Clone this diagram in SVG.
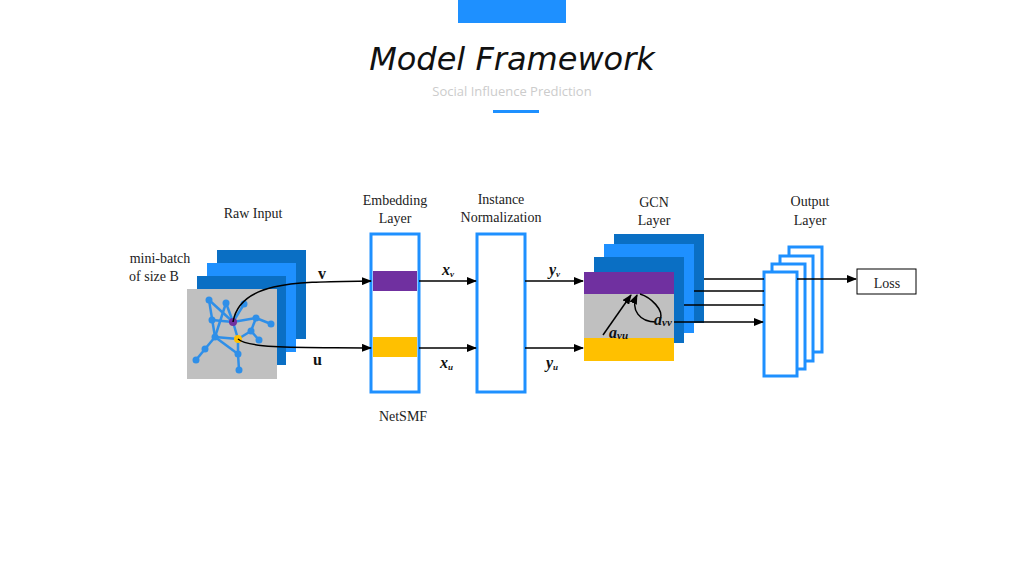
<svg xmlns="http://www.w3.org/2000/svg" width="1024" height="576" viewBox="0 0 1024 576">
<style>
.t{font-family:"Liberation Serif",serif;font-size:14px;fill:#222;text-anchor:middle}
.m{font-family:"Liberation Serif",serif;font-weight:bold;font-style:italic;fill:#111}
.ln{stroke:#000;stroke-width:1.5;fill:none}
.box{fill:#fff;stroke:#1e90ff;stroke-width:3}
.e{stroke:#2f8fe8;stroke-width:2.5}
.n{fill:#2f8fe8}
</style>
<defs><marker id="ah" markerWidth="10" markerHeight="8" refX="9" refY="4" orient="auto" markerUnits="userSpaceOnUse"><path d="M0,0L10,4L0,8z" fill="#000"/></marker></defs>
<rect x="458" y="0" width="108" height="23" fill="#1e90ff"/>
<text x="512" y="70" font-family="'Comic Sans MS','DejaVu Sans',cursive" font-style="italic" font-size="32" text-anchor="middle" fill="#111">Model Framework</text>
<text x="512" y="96" font-family="'Open Sans',sans-serif" font-size="13" text-anchor="middle" fill="#ccc">Social Influence Prediction</text>
<rect x="493" y="110" width="46" height="3" fill="#1e90ff"/>
<g id="raw-input">
<text class="t" x="253" y="218">Raw Input</text>
<text class="t" x="160" y="263">mini-batch</text>
<text class="t" x="154" y="281">of size B</text>
<rect x="217" y="250" width="89" height="89" fill="#0a6fc4"/>
<rect x="207" y="263" width="89" height="89" fill="#1e90ff"/>
<rect x="197" y="276" width="89" height="89" fill="#0a6fc4"/>
<rect x="187" y="289" width="90" height="90" fill="#c0c0c0"/>
<g class="e"><line x1="209" y1="300" x2="233" y2="322"/><line x1="226" y1="303" x2="233" y2="322"/><line x1="244" y1="304" x2="233" y2="322"/><line x1="212" y1="320" x2="233" y2="322"/><line x1="256" y1="318" x2="233" y2="322"/><line x1="271" y1="324" x2="256" y2="318"/><line x1="226" y1="303" x2="215" y2="337"/><line x1="209" y1="300" x2="215" y2="337"/><line x1="215" y1="337" x2="238" y2="339"/><line x1="233" y1="322" x2="238" y2="339"/><line x1="251" y1="331" x2="238" y2="339"/><line x1="251" y1="331" x2="259" y2="340"/><line x1="251" y1="331" x2="256" y2="318"/><line x1="215" y1="337" x2="205" y2="349"/><line x1="205" y1="349" x2="196" y2="360"/><line x1="238" y1="339" x2="238" y2="354"/><line x1="238" y1="354" x2="239" y2="370"/><line x1="215" y1="337" x2="238" y2="354"/></g>
<g class="n"><circle cx="209" cy="300" r="3.5"/><circle cx="226" cy="303" r="3.5"/><circle cx="244" cy="304" r="3.5"/><circle cx="212" cy="320" r="3.5"/><circle cx="256" cy="318" r="3.5"/><circle cx="271" cy="324" r="3.5"/><circle cx="251" cy="331" r="3.5"/><circle cx="215" cy="337" r="3.5"/><circle cx="259" cy="340" r="3.5"/><circle cx="205" cy="349" r="3.5"/><circle cx="238" cy="354" r="3.5"/><circle cx="196" cy="360" r="3.5"/><circle cx="239" cy="370" r="3.5"/></g>
<circle cx="233" cy="322" r="4" fill="#7030a0"/>
<circle cx="238" cy="339" r="4" fill="#ffc000"/>
</g>
<g id="embedding">
<text class="t" x="395" y="205">Embedding</text>
<text class="t" x="395" y="223">Layer</text>
<rect class="box" x="371" y="234" width="48" height="158"/>
<rect x="373" y="271" width="44" height="20" fill="#7030a0"/>
<rect x="373" y="337" width="44" height="20" fill="#ffc000"/>
<text class="t" x="403" y="421">NetSMF</text>
</g>
<g id="instance-norm">
<text class="t" x="501" y="204">Instance</text>
<text class="t" x="501" y="222">Normalization</text>
<rect class="box" x="477" y="234" width="48" height="158"/>
</g>
<g id="gcn">
<text class="t" x="654" y="207">GCN</text>
<text class="t" x="654" y="225">Layer</text>
<rect x="614" y="234" width="90" height="89" fill="#0a6fc4"/>
<rect x="604" y="244" width="90" height="89" fill="#1e90ff"/>
<rect x="594" y="257" width="90" height="86" fill="#0a6fc4"/>
<rect x="584" y="272" width="90" height="89" fill="#c0c0c0"/>
<rect x="584" y="272" width="90" height="22" fill="#7030a0"/>
<rect x="584" y="338" width="90" height="23" fill="#ffc000"/>
</g>
<g id="output">
<text class="t" x="810" y="206">Output</text>
<text class="t" x="810" y="225">Layer</text>
<rect class="box" x="789" y="247" width="33" height="105"/>
<rect class="box" x="780" y="256" width="33" height="105"/>
<rect class="box" x="772" y="264" width="33" height="105"/>
<rect class="box" x="764" y="272" width="33" height="104"/>
</g>
<g id="loss">
<rect x="857" y="269" width="59" height="25" fill="#fff" stroke="#000" stroke-width="1"/>
<text class="t" x="887" y="288" font-size="18">Loss</text>
</g>
<g id="connectors">
<path class="ln" d="M233,322 C240,280 300,282 371,281" marker-end="url(#ah)"/>
<path class="ln" d="M238,339 C250,350 320,347 371,348" marker-end="url(#ah)"/>
<line class="ln" x1="419" y1="281" x2="476" y2="281" marker-end="url(#ah)"/>
<line class="ln" x1="419" y1="348" x2="476" y2="348" marker-end="url(#ah)"/>
<line class="ln" x1="525" y1="281" x2="583" y2="281" marker-end="url(#ah)"/>
<line class="ln" x1="525" y1="348" x2="583" y2="348" marker-end="url(#ah)"/>
<path class="ln" stroke-width="1" d="M603,335 L631,295" marker-end="url(#ah)"/>
<path class="ln" stroke-width="1" d="M656,322 C640,322 630,310 637,295" marker-end="url(#ah)"/>
<path class="ln" stroke-width="1" d="M660,320 C665,310 650,297 640,294"/>
<line class="ln" x1="704" y1="279" x2="764" y2="279"/>
<line class="ln" x1="694" y1="291" x2="764" y2="291"/>
<line class="ln" x1="684" y1="305" x2="764" y2="305"/>
<line class="ln" x1="674" y1="322" x2="763" y2="322" marker-end="url(#ah)"/>
<line class="ln" x1="797" y1="279" x2="856" y2="279" marker-end="url(#ah)"/>
</g>
<g class="m">
<text x="318" y="279" font-size="16" font-style="normal">v</text>
<text x="313" y="365" font-size="16" font-style="normal">u</text>
<text x="442" y="275" font-size="16">x<tspan font-size="9" dy="2">v</tspan></text>
<text x="440" y="368" font-size="16">x<tspan font-size="9" dy="2">u</tspan></text>
<text x="549" y="275" font-size="16">y<tspan font-size="9" dy="2">v</tspan></text>
<text x="546" y="368" font-size="16">y<tspan font-size="9" dy="2">u</tspan></text>
<text x="609" y="338" font-size="16">a<tspan font-size="11" dy="1">vu</tspan></text>
<text x="654" y="325" font-size="16">a<tspan font-size="11" dy="1">vv</tspan></text>
</g>
</svg>
